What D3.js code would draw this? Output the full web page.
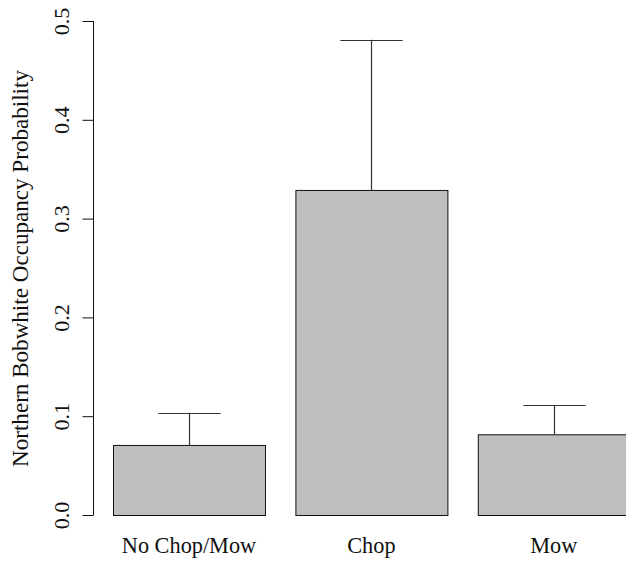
<!DOCTYPE html>
<html><head><meta charset="utf-8">
<script src="https://cdn.jsdelivr.net/npm/d3@7"></script>
<style>body{margin:0;background:#fff}svg{display:block}</style>
</head><body>
<script>
const categories = ["No Chop/Mow", "Chop", "Mow"];
const values = [0.0709, 0.329, 0.0817];
const upper = [0.1035, 0.481, 0.111];
const yTicks = [0.0, 0.1, 0.2, 0.3, 0.4, 0.5];
const yLabel = "Northern Bobwhite Occupancy Probability";

const W = 626, H = 561;
const svg = d3.select("body").append("svg").attr("width", W).attr("height", H);
const font = "'Liberation Serif','Times New Roman',serif";

const y = d3.scaleLinear().domain([0, 0.5]).range([515, 21]);
const x = d3.scaleBand().domain(categories).range([113, 629.8]).paddingInner(1/6).paddingOuter(0);

// bars
svg.append("g").selectAll("rect").data(categories).join("rect")
  .attr("x", d => x(d) + 0.5)
  .attr("y", (d, i) => y(values[i]) + 0.5)
  .attr("width", x.bandwidth())
  .attr("height", (d, i) => y(0) - y(values[i]))
  .attr("fill", "#bebebe").attr("stroke", "#111").attr("stroke-width", 1);

// error bars
const eb = svg.append("g").attr("stroke", "#333").attr("stroke-width", 1.2);
categories.forEach((c, i) => {
  const cx = Math.round(x(c) + x.bandwidth() / 2) + 0.5;
  const half = x.bandwidth() * 0.205;
  eb.append("line").attr("x1", cx).attr("x2", cx).attr("y1", y(values[i])).attr("y2", y(upper[i]));
  eb.append("line").attr("x1", cx - half).attr("x2", cx + half).attr("y1", Math.round(y(upper[i])) + 0.5).attr("y2", Math.round(y(upper[i])) + 0.5);
});

// x labels
svg.append("g").selectAll("text").data(categories).join("text")
  .attr("x", d => x(d) + x.bandwidth() / 2)
  .attr("y", 553)
  .attr("text-anchor", "middle")
  .attr("font-family", font).attr("font-size", 22.3).attr("fill", "#111")
  .text(d => d);

// y axis
const ax = svg.append("g").attr("transform", "translate(93.5,0)");
ax.call(d3.axisLeft(y).tickValues(yTicks).tickSize(11).tickFormat(d3.format(".1f")));
ax.select(".domain").attr("d", `M0,${y(0.5)}V${y(0)}`).attr("stroke", "#111");
ax.selectAll(".tick line").attr("stroke", "#111");
ax.selectAll(".tick text")
  .attr("font-family", font).attr("font-size", 22).attr("fill", "#111")
  .attr("transform", "rotate(-90)")
  .attr("x", 0).attr("y", -25).attr("dy", 0)
  .attr("text-anchor", "middle");

// y label
svg.append("text")
  .attr("transform", `translate(28,268.5) rotate(-90)`)
  .attr("text-anchor", "middle")
  .attr("font-family", font).attr("font-size", 23.1).attr("fill", "#111")
  .text(yLabel);
</script>
</body></html>
